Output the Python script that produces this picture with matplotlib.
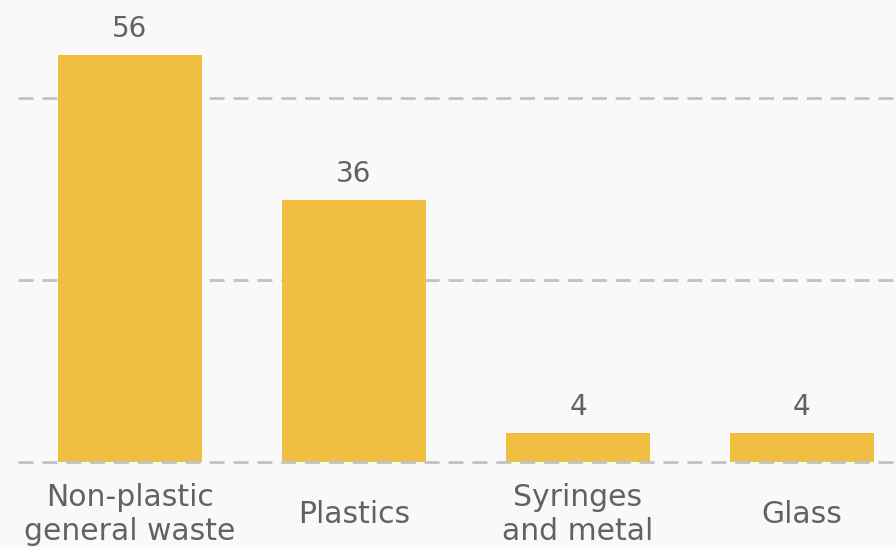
import matplotlib
matplotlib.use("Agg")
import matplotlib.pyplot as plt

categories = ["Non-plastic\ngeneral waste", "Plastics", "Syringes\nand metal", "Glass"]
values = [56, 36, 4, 4]
grid_ticks = [0, 25, 50]

BAR_COLOR = "#f0be41"
TEXT_COLOR = "#5f6368"
GRID_COLOR = "#c0c2c4"
BG = "#f9f9f9"

plt.rcParams["font.family"] = ["DejaVu Sans"]

fig = plt.figure(figsize=(8.96, 5.47), dpi=100, facecolor=BG)
ax = fig.add_axes([18 / 896, 85 / 547, 878 / 896, 462 / 547])
ax.set_facecolor(BG)

x = list(range(len(categories)))
ax.bar(x, values, width=0.64, color=BAR_COLOR, zorder=2)

for xi, v in zip(x, values):
    ax.annotate(str(v), (xi, v), xytext=(0, 8.5), textcoords="offset points",
                ha="center", va="bottom", fontsize=20, color=TEXT_COLOR)

for t in grid_ticks:
    ax.axhline(t, color=GRID_COLOR, lw=2, ls=(0, (5.4, 3.2)),
               zorder=3 if t == 0 else 1, clip_on=False)

ax.set_xlim(-0.5, 3.42)
ax.set_ylim(0, 63.5)
ax.set_xticks(x)
ax.set_xticklabels(categories, fontsize=21.5, color=TEXT_COLOR, linespacing=1.2,
                   va="center")
ax.tick_params(axis="x", length=0, pad=38)
ax.set_yticks([])
for s in ax.spines.values():
    s.set_visible(False)

fig.savefig("out.png", dpi=100, facecolor=BG)
